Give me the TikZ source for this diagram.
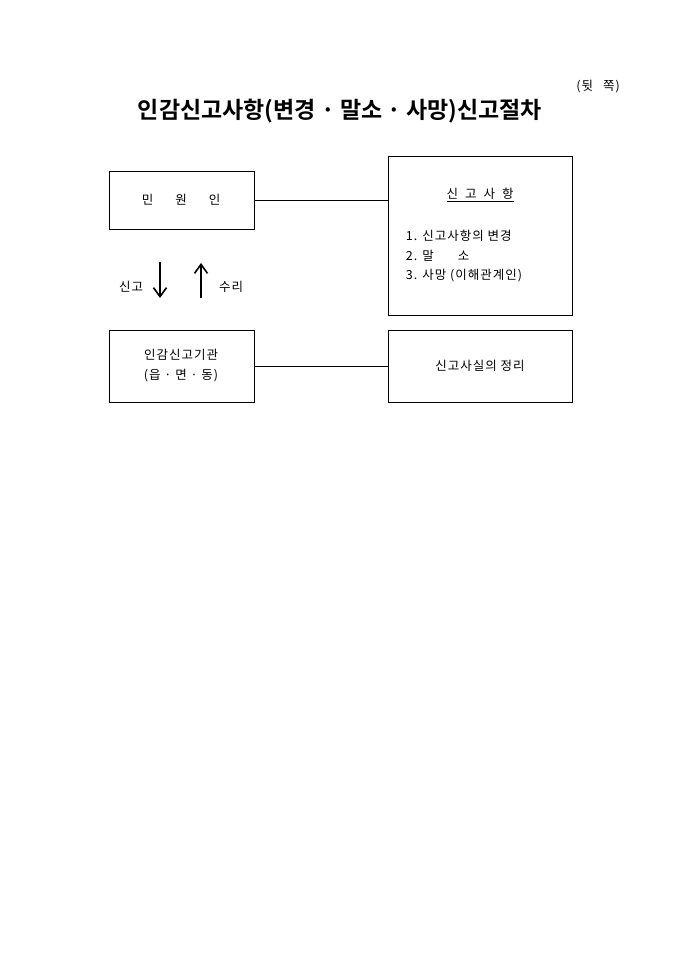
\documentclass[tikz,border=0pt]{standalone}
\usepackage{fontspec}
\setmainfont{Noto Sans CJK KR}
\newfontfamily\titlefont{Noto Sans CJK KR}[BoldFont={* Bold}]
\newfontfamily\boxfont{Noto Sans CJK KR}[LetterSpace=8]
\usetikzlibrary{positioning,arrows.meta}

\begin{document}
\begin{tikzpicture}[x=1pt,y=1pt,yscale=-1,xscale=1]
	\tikzset{
		box/.style={draw,line width=0.8pt,inner sep=0pt},
		boxtext/.style={font=\boxfont\fontsize{12.5}{15}\selectfont,inner sep=0.75pt},
		flow/.style={-{Straight Barb[length=9pt,width=13pt,line width=1.6pt]},line width=1.6pt}
	}
	\useasboundingbox (0,0) rectangle (680,962);
	% title
	\draw (340,111) node [inner sep=0.75pt] (title) {\titlefont\bfseries\fontsize{23}{26}\selectfont 인감신고사항(변경 · 말소 · 사망)신고절차};
	\draw (598,87) node [boxtext] (side) {(뒷\hspace{10pt}쪽)};
	% boxes
	\draw (109,171) node [box,anchor=north west,minimum width=145pt,minimum height=58pt] (minwon) {};
	\draw (388,156) node [box,anchor=north west,minimum width=184pt,minimum height=159pt] (sahang) {};
	\draw (109,330) node [box,anchor=north west,minimum width=145pt,minimum height=72pt] (gigwan) {};
	\draw (388,330) node [box,anchor=north west,minimum width=184pt,minimum height=72pt] (jeongri) {};
	% links
	\draw [line width=0.8pt] (minwon.east) -- (minwon.east -| sahang.west) ;
	\draw [line width=0.8pt] (gigwan.east) -- (jeongri.west) ;
	% arrows
	\coordinate (dtop) at (160,262);
	\coordinate (dbot) at (160,298);
	\coordinate (ubot) at (201,298);
	\coordinate (utop) at (201,263);
	\draw [flow] (dtop) -- (dbot) ;
	\draw [flow] (ubot) -- (utop) ;
	\draw (131,287) node [boxtext] (singo) {신고};
	\draw (231,287) node [boxtext] (suri) {수리};
	% texts
	\draw (181,200) node [boxtext] (minwontext) {민\hspace{22pt}원\hspace{22pt}인};
	\draw (480,195) node [boxtext] (sahanghead) {\underline{신\hspace{7pt}고\hspace{7pt}사\hspace{7pt}항}};
	\draw (405,236) node [boxtext,anchor=west] (item1) {1. 신고사항의 변경};
	\draw (405,256) node [boxtext,anchor=west] (item2) {2. 말\hspace{24pt}소};
	\draw (405,276) node [boxtext,anchor=west] (item3) {3. 사망 (이해관계인)};
	\draw (181,355) node [boxtext] (gigwantext) {인감신고기관};
	\draw (181,376) node [boxtext] (gigwansub) {(읍 · 면 · 동)};
	\draw (480,366) node [boxtext] (jeongritext) {신고사실의 정리};
\end{tikzpicture}
\end{document}
